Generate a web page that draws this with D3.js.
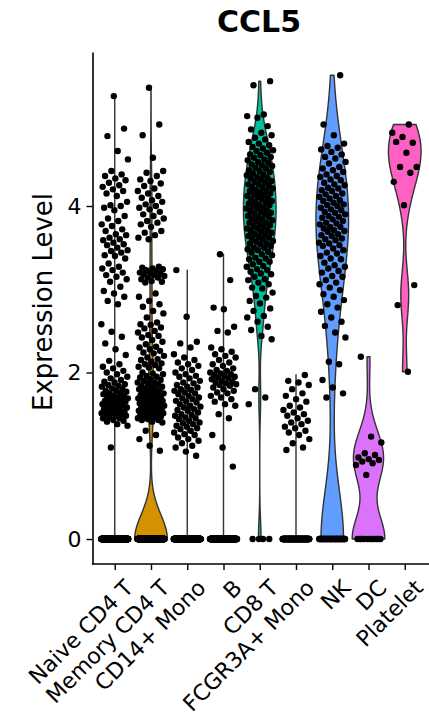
<!DOCTYPE html>
<html>
<head>
<meta charset="utf-8">
<script src="https://cdn.jsdelivr.net/npm/d3@7"></script>
<style>
  body { margin: 0; background: #fff; }
  svg { display: block; }
  text { font-family: "DejaVu Sans", sans-serif; fill: #000; }
</style>
</head>
<body>
<svg id="chart" width="429" height="720"></svg>
<script>
// Cell clusters along the x axis, in plotting order
const categories = ["Naive CD4 T", "Memory CD4 T", "CD14+ Mono", "B", "CD8 T",
                    "FCGR3A+ Mono", "NK", "DC", "Platelet"];
const fillColors = ["#F8766D", "#D39200", "#93AA00", "#00BA38", "#00C19F",
                    "#00B9E3", "#619CFF", "#DB72FB", "#FF61C3"];
// Cells per cluster with no CCL5 counts (expression exactly 0)
const zeroCounts = [540, 400, 400, 290, 4, 140, 48, 11, 0];

// Expression of the cells with non-zero CCL5, per cluster
const naiveCD4T = [1.10, 1.36, 1.38, 1.41, 1.42, 1.43, 1.45, 1.45, 1.46, 1.48, 1.48, 1.49, 1.50, 1.51, 1.51,
  1.52, 1.53, 1.53, 1.55, 1.56, 1.56, 1.57, 1.58, 1.60, 1.60, 1.61, 1.61, 1.62, 1.63, 1.64, 1.65, 1.65,
  1.66, 1.68, 1.68, 1.69, 1.70, 1.71, 1.72, 1.72, 1.74, 1.75, 1.75, 1.77, 1.78, 1.78, 1.80, 1.81, 1.83,
  1.84, 1.85, 1.86, 1.88, 1.89, 1.91, 1.93, 1.95, 1.98, 2.00, 2.02, 2.05, 2.07, 2.10, 2.14, 2.21, 2.28,
  2.35, 2.43, 2.49, 2.58, 2.82, 2.86, 2.91, 2.95, 2.98, 3.03, 3.09, 3.12, 3.15, 3.17, 3.20, 3.23, 3.25,
  3.27, 3.31, 3.37, 3.40, 3.41, 3.44, 3.46, 3.47, 3.50, 3.53, 3.54, 3.56, 3.59, 3.60, 3.62, 3.65, 3.66,
  3.70, 3.72, 3.76, 3.78, 3.82, 3.85, 3.88, 3.95, 3.98, 4.00, 4.01, 4.05, 4.12, 4.15, 4.18, 4.20, 4.23,
  4.25, 4.28, 4.31, 4.33, 4.36, 4.38, 4.42, 4.56, 4.66, 4.84, 4.93, 5.32];
const memoryCD4T = [1.06, 1.12, 1.20, 1.25, 1.30, 1.40, 1.41, 1.43, 1.43, 1.44, 1.45, 1.46, 1.46, 1.47,
  1.48, 1.49, 1.49, 1.50, 1.51, 1.51, 1.52, 1.53, 1.53, 1.54, 1.55, 1.55, 1.56, 1.57, 1.58, 1.58, 1.59,
  1.60, 1.61, 1.61, 1.62, 1.63, 1.63, 1.64, 1.65, 1.66, 1.66, 1.67, 1.68, 1.69, 1.69, 1.70, 1.71, 1.72,
  1.72, 1.73, 1.74, 1.75, 1.75, 1.76, 1.77, 1.78, 1.79, 1.80, 1.80, 1.81, 1.83, 1.83, 1.84, 1.86, 1.87,
  1.88, 1.88, 1.90, 1.91, 1.92, 1.94, 1.95, 1.96, 1.98, 1.99, 2.00, 2.05, 2.06, 2.07, 2.09, 2.10, 2.11,
  2.13, 2.15, 2.16, 2.18, 2.20, 2.23, 2.24, 2.26, 2.28, 2.30, 2.31, 2.34, 2.37, 2.39, 2.42, 2.44, 2.45,
  2.48, 2.50, 2.53, 2.54, 2.57, 2.58, 2.60, 2.66, 2.71, 2.74, 2.79, 2.82, 2.86, 2.91, 2.95, 3.08, 3.09,
  3.10, 3.12, 3.14, 3.14, 3.16, 3.17, 3.18, 3.19, 3.20, 3.20, 3.22, 3.23, 3.24, 3.25, 3.26, 3.27, 3.60,
  3.62, 3.65, 3.68, 3.70, 3.75, 3.78, 3.80, 3.82, 3.85, 3.88, 3.90, 3.93, 3.96, 3.98, 4.00, 4.02, 4.05,
  4.07, 4.10, 4.12, 4.15, 4.18, 4.21, 4.24, 4.27, 4.30, 4.32, 4.36, 4.40, 4.42, 4.58, 4.85, 4.98, 5.42];
const cd14Mono = [1.00, 1.05, 1.10, 1.12, 1.15, 1.18, 1.20, 1.22, 1.25, 1.26, 1.28, 1.30, 1.32, 1.33,
  1.35, 1.36, 1.38, 1.39, 1.40, 1.42, 1.44, 1.45, 1.46, 1.48, 1.49, 1.50, 1.52, 1.54, 1.55, 1.56, 1.58,
  1.59, 1.60, 1.62, 1.64, 1.65, 1.66, 1.68, 1.69, 1.70, 1.72, 1.74, 1.75, 1.76, 1.78, 1.79, 1.80, 1.82,
  1.83, 1.85, 1.87, 1.88, 1.90, 1.93, 1.95, 1.96, 1.98, 2.00, 2.03, 2.05, 2.08, 2.10, 2.12, 2.15, 2.18,
  2.22, 2.30, 2.35, 2.37, 2.67, 3.23];
const bCells = [0.87, 1.10, 1.25, 1.45, 1.50, 1.60, 1.62, 1.65, 1.68, 1.70, 1.72, 1.75, 1.76, 1.78, 1.80,
  1.82, 1.84, 1.85, 1.86, 1.87, 1.88, 1.89, 1.90, 1.92, 1.93, 1.94, 1.95, 1.96, 1.97, 1.98, 1.99, 2.00,
  2.02, 2.03, 2.05, 2.08, 2.10, 2.12, 2.15, 2.18, 2.20, 2.22, 2.25, 2.28, 2.30, 2.48, 2.50, 2.55, 2.76,
  2.78, 3.11, 3.42];
const cd8T = [1.62, 1.70, 1.80, 2.40, 2.44, 2.51, 2.55, 2.61, 2.66, 2.68, 2.74, 2.77, 2.83, 2.86, 2.90,
  2.92, 2.96, 3.01, 3.02, 3.06, 3.08, 3.11, 3.12, 3.15, 3.18, 3.19, 3.21, 3.23, 3.24, 3.27, 3.28, 3.30,
  3.33, 3.33, 3.36, 3.37, 3.38, 3.41, 3.42, 3.44, 3.45, 3.47, 3.48, 3.50, 3.50, 3.52, 3.54, 3.55, 3.55,
  3.57, 3.58, 3.60, 3.60, 3.62, 3.63, 3.64, 3.66, 3.66, 3.68, 3.69, 3.70, 3.71, 3.73, 3.73, 3.75, 3.76,
  3.77, 3.78, 3.80, 3.80, 3.82, 3.83, 3.84, 3.85, 3.87, 3.87, 3.88, 3.90, 3.91, 3.92, 3.93, 3.94, 3.95,
  3.97, 3.97, 3.98, 4.00, 4.01, 4.01, 4.03, 4.04, 4.05, 4.06, 4.08, 4.08, 4.09, 4.11, 4.12, 4.13, 4.14,
  4.15, 4.16, 4.18, 4.18, 4.19, 4.21, 4.22, 4.23, 4.24, 4.26, 4.26, 4.28, 4.29, 4.30, 4.32, 4.33, 4.34,
  4.35, 4.37, 4.38, 4.39, 4.41, 4.42, 4.43, 4.45, 4.46, 4.48, 4.49, 4.50, 4.52, 4.53, 4.55, 4.56, 4.58,
  4.59, 4.61, 4.62, 4.64, 4.66, 4.67, 4.69, 4.71, 4.73, 4.75, 4.77, 4.80, 4.82, 4.85, 4.88, 4.92, 4.96,
  5.06, 5.08, 5.10, 5.45, 5.50];
const fcgr3aMono = [1.07, 1.10, 1.15, 1.20, 1.25, 1.28, 1.30, 1.33, 1.35, 1.38, 1.40, 1.42, 1.45, 1.48,
  1.50, 1.52, 1.55, 1.58, 1.60, 1.65, 1.68, 1.72, 1.75, 1.80, 1.85, 1.88, 1.90, 1.97];
const nkCells = [1.70, 1.75, 1.82, 1.91, 2.10, 2.13, 2.42, 2.48, 2.56, 2.61, 2.66, 2.73, 2.78, 2.82,
  2.87, 2.91, 2.94, 2.99, 3.02, 3.06, 3.08, 3.11, 3.15, 3.16, 3.20, 3.22, 3.25, 3.27, 3.29, 3.32, 3.36,
  3.37, 3.40, 3.43, 3.44, 3.47, 3.49, 3.52, 3.53, 3.55, 3.56, 3.59, 3.60, 3.61, 3.64, 3.65, 3.66, 3.69,
  3.70, 3.71, 3.73, 3.75, 3.75, 3.78, 3.79, 3.80, 3.82, 3.84, 3.86, 3.87, 3.88, 3.90, 3.92, 3.93, 3.95,
  3.96, 3.98, 4.00, 4.01, 4.02, 4.04, 4.06, 4.07, 4.09, 4.11, 4.12, 4.14, 4.15, 4.18, 4.19, 4.21, 4.22,
  4.25, 4.26, 4.28, 4.31, 4.32, 4.35, 4.36, 4.38, 4.41, 4.43, 4.45, 4.47, 4.51, 4.53, 4.57, 4.59, 4.62,
  4.65, 4.68, 4.70, 4.72, 4.75, 4.85, 4.98, 5.57];
const dcCells = [0.77, 0.89, 0.91, 0.93, 0.95, 0.96, 0.98, 1.01, 1.03, 1.16, 1.23, 2.19];
const platelets = [2.01, 2.81, 3.05, 4.01, 4.29, 4.40, 4.47, 4.47, 4.64, 4.77, 4.76, 4.83, 4.88, 4.98];

const expressed = [naiveCD4T, memoryCD4T, cd14Mono, bCells, cd8T, fcgr3aMono, nkCells, dcCells, platelets];
const yTicks = [0, 2, 4];
const featureName = "CCL5";
const yTitle = "Expression Level";

const svg = d3.select("#chart");

const x = d3.scalePoint().domain(categories).range([93, 426.5]).padding(0.6);
const y = d3.scaleLinear().domain([-0.3, 5.85]).range([564, 52]);
const unit = x.step();
const violinHalf = 0.45 * unit;   // geom_violin width 0.9
const jitterHalf = 0.37 * unit;   // horizontal jitter of the cells

// Silverman's rule (R's bw.nrd0); tied zeros carry Seurat's ~1e-5 tie-breaking offset,
// which makes the IQR of a mostly-zero cluster vanish to that scale
function bandwidth(values) {
  const s = values.slice().sort(d3.ascending);
  const sd = d3.deviation(s);
  const iqr = d3.quantileSorted(s, 0.75) - d3.quantileSorted(s, 0.25);
  const lo = Math.min(sd, iqr > 0 ? iqr / 1.34 : 1e-5);
  return 0.9 * lo * Math.pow(s.length, -0.2);
}

// Gaussian kernel density on 512 points over the data range (trimmed violin),
// scaled so every violin has the same maximum width
function violinProfile(values) {
  const bw = bandwidth(values);
  const [lo, hi] = d3.extent(values);
  const n = 512;
  const pts = d3.range(n).map(k => {
    const v = lo + (hi - lo) * k / (n - 1);
    let sum = 0;
    for (const xi of values) {
      const z = (v - xi) / bw;
      sum += Math.exp(-0.5 * z * z);
    }
    return { v, d: sum };
  });
  const maxD = d3.max(pts, p => p.d);
  pts.forEach(p => { p.w = p.d / maxD; });
  return pts;
}

const groups = categories.map((c, i) => {
  const values = d3.range(zeroCounts[i]).map(() => 0).concat(expressed[i]);
  return { name: c, fill: fillColors[i], values };
});

// Violins
const plot = svg.append("g");
groups.forEach(g => {
  const cx = x(g.name);
  const prof = violinProfile(g.values);
  const area = d3.area()
    .y(p => y(p.v))
    .x0(p => cx - p.w * violinHalf)
    .x1(p => cx + p.w * violinHalf);
  plot.append("path")
    .attr("d", area(prof) + "Z")
    .attr("fill", g.fill)
    .attr("stroke", "#333")
    .attr("stroke-width", 1.4)
    .attr("stroke-linejoin", "round");
});

// Jittered cells (deterministic golden-ratio spread across the jitter width)
const phi = 0.6180339887;
groups.forEach(g => {
  const cx = x(g.name);
  plot.append("g").selectAll("circle")
    .data(g.values)
    .join("circle")
    .attr("cx", (v, k) => cx + (((k + 1) * phi) % 1 * 2 - 1) * jitterHalf)
    .attr("cy", v => y(v))
    .attr("r", 3.2)
    .attr("fill", "#000");
});

// Axes
const yAxis = svg.append("g")
  .attr("transform", "translate(92.5,0)")
  .call(d3.axisLeft(y).tickValues(yTicks).tickFormat(d3.format("d"))
    .tickSize(6).tickSizeOuter(0).tickPadding(5));
yAxis.select(".domain").attr("stroke", "#000").attr("stroke-width", 1.6);
yAxis.selectAll(".tick line").attr("stroke", "#000").attr("stroke-width", 1.4);
yAxis.selectAll(".tick text").style("font-size", "22px").attr("fill", "#000");

const xAxis = svg.append("g")
  .attr("transform", "translate(0,564)")
  .call(d3.axisBottom(x).tickSize(6).tickSizeOuter(0));
xAxis.select(".domain").remove();
xAxis.append("line")
  .attr("x1", 92).attr("x2", 429).attr("y1", 0).attr("y2", 0)
  .attr("stroke", "#000").attr("stroke-width", 1.6);
xAxis.selectAll(".tick line").attr("stroke", "#000").attr("stroke-width", 1.4);
xAxis.selectAll(".tick text")
  .style("font-size", "22px")
  .attr("fill", "#000")
  .attr("text-anchor", "end")
  .attr("x", 0).attr("y", 0).attr("dy", "0.72em")
  .attr("transform", "translate(8,14) rotate(-45)");

// Titles
svg.append("text")
  .attr("x", 259).attr("y", 32)
  .attr("text-anchor", "middle")
  .style("font-size", "30px")
  .style("font-weight", "bold")
  .text(featureName);

svg.append("text")
  .attr("transform", "translate(52,302) rotate(-90)")
  .attr("text-anchor", "middle")
  .style("font-size", "26px")
  .text(yTitle);
</script>
</body>
</html>
